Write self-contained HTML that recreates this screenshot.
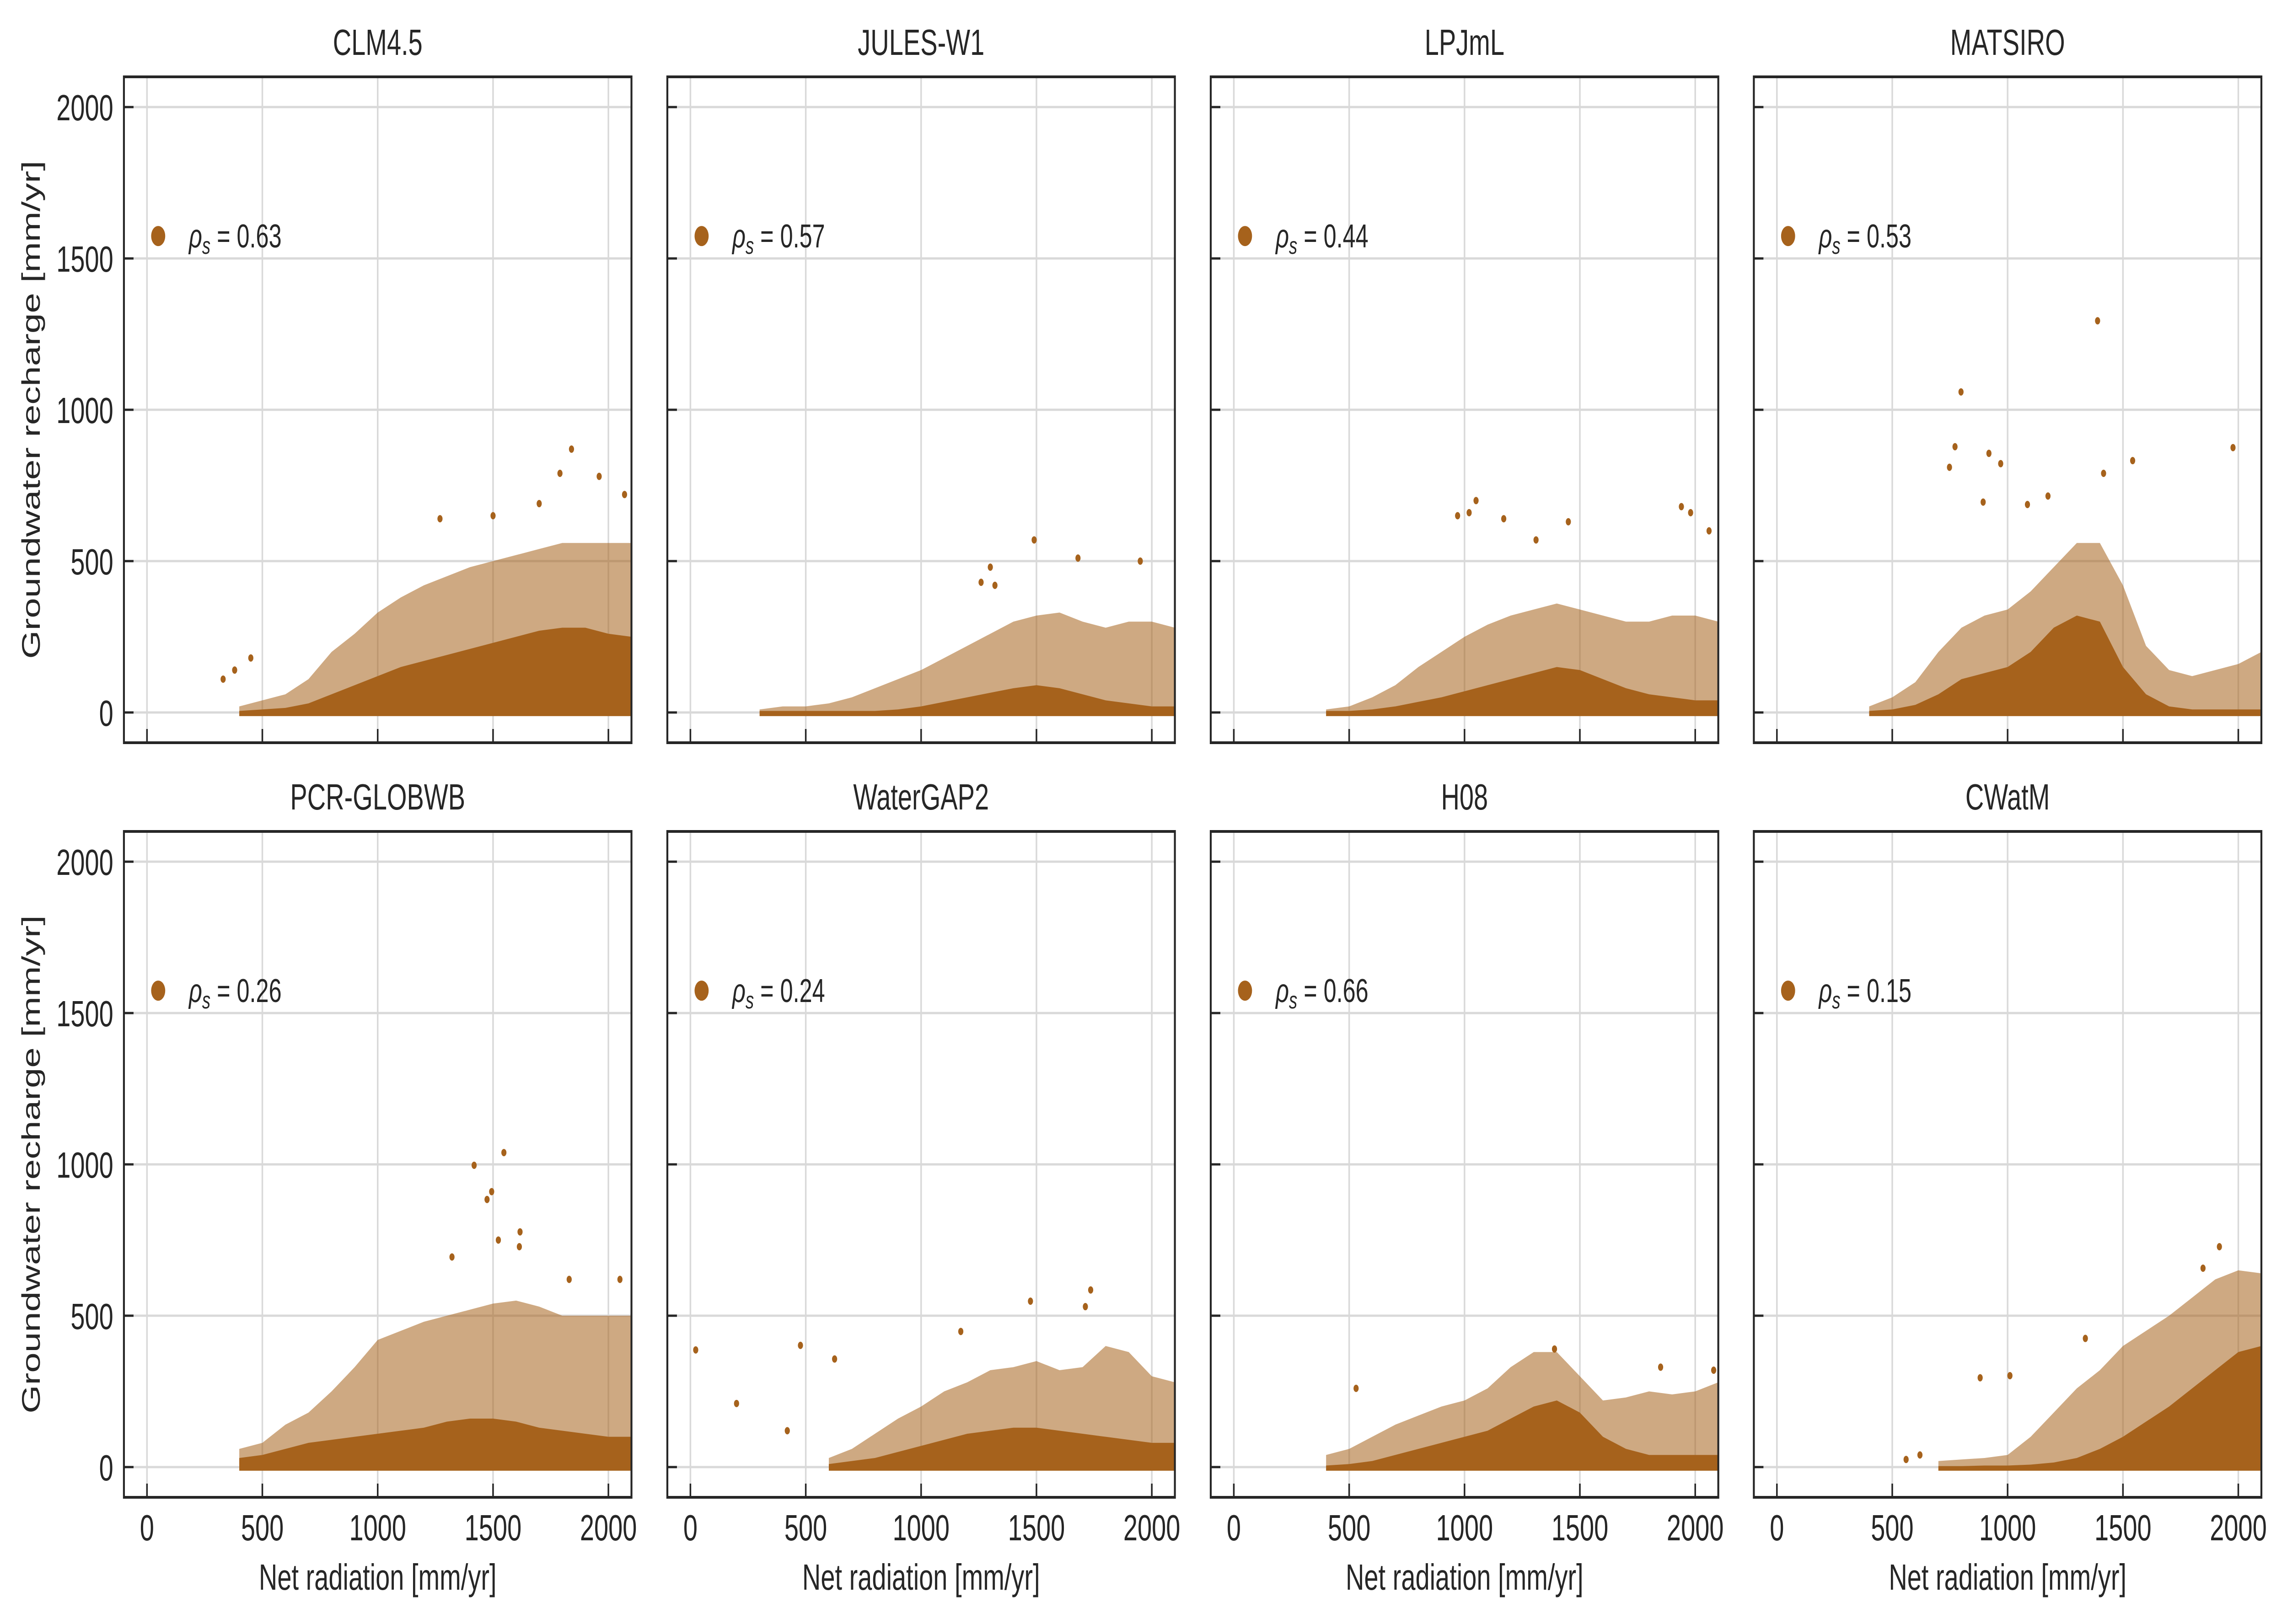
<!DOCTYPE html>
<html><head><meta charset="utf-8"><title>Groundwater recharge vs net radiation</title>
<style>html,body{margin:0;padding:0;background:#fff;width:100vw;height:100vh;overflow:hidden;}svg{display:block;width:100vw;height:100vh;font-family:"Liberation Sans",sans-serif;}</style>
</head><body>
<svg id="chart" viewBox="0 0 7142 3551" preserveAspectRatio="none" xmlns="http://www.w3.org/2000/svg"></svg>
<script>
const modelNames = ["CLM4.5","JULES-W1","LPJmL","MATSIRO","PCR-GLOBWB","WaterGAP2","H08","CWatM"];
const rhoValues = ["0.63","0.57","0.44","0.53","0.26","0.24","0.66","0.15"];
const xTicks = [0,500,1000,1500,2000];
const yTicks = [0,500,1000,1500,2000];
const binX = [300,400,500,600,700,800,900,1000,1100,1200,1300,1400,1500,1600,1700,1800,1900,2000,2100];
const coreCLM = [null,5,10,15,30,60,90,120,150,170,190,210,230,250,270,280,280,260,250];
const spreadCLM = [null,20,40,60,110,200,260,330,380,420,450,480,500,520,540,560,560,560,560];
const outCLM = [[1840,870],[1790,790],[1960,780],[2070,720],[1270,640],[1500,650],[1700,690],[330,110],[380,140],[450,180]];
const coreJULES = [5,5,5,5,5,5,10,20,35,50,65,80,90,80,60,40,30,20,20];
const spreadJULES = [10,20,20,30,50,80,110,140,180,220,260,300,320,330,300,280,300,300,280];
const outJULES = [[1490,570],[1680,510],[1950,500],[1300,480],[1320,420],[1260,430]];
const coreLPJ = [null,5,5,10,20,35,50,70,90,110,130,150,140,110,80,60,50,40,40];
const spreadLPJ = [null,10,20,50,90,150,200,250,290,320,340,360,340,320,300,300,320,320,300];
const outLPJ = [[1050,700],[970,650],[1020,660],[1170,640],[1450,630],[1940,680],[1980,660],[2060,600],[1310,570]];
const coreMAT = [null,5,10,25,60,110,130,150,200,280,320,300,150,60,20,10,10,10,10];
const spreadMAT = [null,20,50,100,200,280,320,340,400,480,560,560,420,220,140,120,140,160,200];
const outMAT = [[1390,1294],[798,1059],[772,878],[748,810],[919,856],[970,822],[1977,875],[1542,832],[1416,790],[1086,687],[1175,715],[894,695]];
const corePCR = [null,30,40,60,80,90,100,110,120,130,150,160,160,150,130,120,110,100,100];
const spreadPCR = [null,60,80,140,180,250,330,420,450,480,500,520,540,550,530,500,500,500,500];
const outPCR = [[1547,1039],[1418,997],[1494,910],[1474,884],[1617,777],[1523,750],[1614,728],[1322,694],[2050,620],[1830,620]];
const coreWG = [null,null,null,10,20,30,50,70,90,110,120,130,130,120,110,100,90,80,80];
const spreadWG = [null,null,null,30,60,110,160,200,250,280,320,330,350,320,330,400,380,300,280];
const outWG = [[1735,585],[1474,548],[477,402],[23,387],[1172,448],[625,357],[1712,530],[200,210],[420,120]];
const coreH08 = [null,5,10,20,40,60,80,100,120,160,200,220,180,100,60,40,40,40,40];
const spreadH08 = [null,40,60,100,140,170,200,220,260,330,380,380,300,220,230,250,240,250,280];
const outH08 = [[1390,390],[1850,330],[2080,320],[530,260]];
const coreCW = [null,null,null,null,3,3,5,5,8,15,30,60,100,150,200,260,320,380,400];
const spreadCW = [null,null,null,null,20,25,30,40,100,180,260,320,400,450,500,560,620,650,640];
const outCW = [[881,295],[1010,302],[1918,728],[1847,657],[560,25],[1337,425],[620,40]];

const coreSeries = [coreCLM,coreJULES,coreLPJ,coreMAT,corePCR,coreWG,coreH08,coreCW];
const spreadSeries = [spreadCLM,spreadJULES,spreadLPJ,spreadMAT,spreadPCR,spreadWG,spreadH08,spreadCW];
const outlierSeries = [outCLM,outJULES,outLPJ,outMAT,outPCR,outWG,outH08,outCW];

const NS = "http://www.w3.org/2000/svg";
const svg = document.getElementById("chart");
const lefts = [387,2084,3781,5477], tops = [168,1818], PW = 1585, PH = 1456;
const XMIN=-100, XMAX=2100, YMIN=-100, YMAX=2100;
const DOT = "#a6621c", INK = "#262626", GRID = "#d9d9d9";
function mk(tag, attrs, parent){const e=document.createElementNS(NS,tag);for(const k in attrs)e.setAttribute(k,attrs[k]);(parent||svg).appendChild(e);return e;}

for(let p=0;p<8;p++){
  const col=p%4,row=Math.floor(p/4),L=lefts[col],T=tops[row];
  const sx=v=>L+(v-XMIN)/(XMAX-XMIN)*PW;
  const sy=v=>T+(YMAX-v)/(YMAX-YMIN)*PH;
  const g=mk("g",{});
  
  
  const clipId='clip'+p;
  const cp=mk("clipPath",{id:clipId},g);mk("rect",{x:L,y:T,width:PW,height:PH},cp);
  xTicks.forEach(t=>{const l=mk("line",{x1:sx(t),x2:sx(t),y1:T,y2:T+PH,stroke:GRID,"stroke-width":5},g);
    });
  yTicks.forEach(t=>{const l=mk("line",{x1:L,x2:L+PW,y1:sy(t),y2:sy(t),stroke:GRID,"stroke-width":5},g);
    });
  const dg=mk("g",{"clip-path":"url(#"+clipId+")"},g);
  
  
  function area(arr){
    const idx=[];arr.forEach((v,i)=>{if(v!==null)idx.push(i);});
    if(!idx.length)return "";
    let d="M"+sx(binX[idx[0]])+","+sy(-12);
    idx.forEach(i=>{d+=" L"+sx(binX[i])+","+sy(arr[i]);});
    d+=" L"+sx(binX[idx[idx.length-1]])+","+sy(-12)+" Z";return d;
  }
  const sp=mk("path",{d:area(spreadSeries[p]),fill:DOT,"fill-opacity":0.55},dg);
  
  const cr=mk("path",{d:area(coreSeries[p]),fill:DOT},dg);
  
  outlierSeries[p].forEach(o=>{const c=mk("circle",{cx:sx(o[0]),cy:sy(o[1]),r:8,fill:DOT},dg);
    });
  xTicks.forEach(t=>{const l=mk("line",{x1:sx(t),x2:sx(t),y1:T+PH,y2:T+PH-30,stroke:INK,"stroke-width":5},g);
    
    if(row===1){const tx=mk("text",{x:sx(t),y:3368,"font-size":80,fill:INK,"text-anchor":"middle"},g);tx.textContent=t;
      }});
  yTicks.forEach(t=>{const l=mk("line",{x1:L,x2:L+30,y1:sy(t),y2:sy(t),stroke:INK,"stroke-width":5},g);
    
    if(col===0){const tx=mk("text",{x:L-33,y:sy(t)+29,"font-size":80,fill:INK,"text-anchor":"end"},g);tx.textContent=t;
      }});
  const fr=mk("rect",{x:L,y:T,width:PW,height:PH,fill:"none",stroke:INK,"stroke-width":6},g);
  
  const ti=mk("text",{x:L+PW/2,y:T-48,"font-size":80,fill:INK,"text-anchor":"middle"},g);ti.textContent=modelNames[p];
  
  const lg=mk("g",{},g);
  
  mk("circle",{cx:L+107,cy:sy(1574),r:22,fill:DOT},lg);
  const lt=mk("text",{x:L+203,y:sy(1574)+25,"font-size":72,fill:INK},lg);
  lt.innerHTML='<tspan font-style="italic">ρ</tspan><tspan font-style="italic" font-size="52" dy="14">s</tspan><tspan dy="-14"> = '+rhoValues[p]+'</tspan>';
  
  if(col===0){const yl=mk("text",{x:0,y:0,"font-size":80,fill:INK,"text-anchor":"middle",transform:"translate(124,"+(T+PH/2)+") rotate(-90)"},g);
    yl.textContent="Groundwater recharge [mm/yr]";}
  if(row===1){const xl=mk("text",{x:L+PW/2,y:3476,"font-size":80,fill:INK,"text-anchor":"middle"},g);
    xl.textContent="Net radiation [mm/yr]";}
}
</script>
</body></html>
